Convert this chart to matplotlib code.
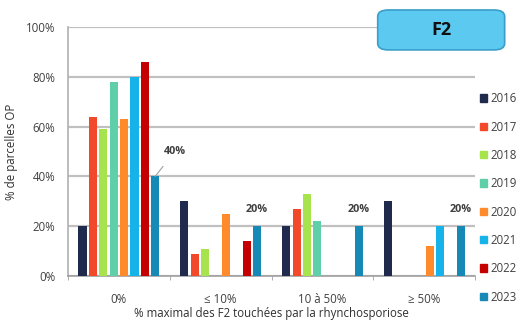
import matplotlib
matplotlib.use("Agg")
import matplotlib.pyplot as plt
import numpy as np
from matplotlib.patches import FancyBboxPatch, Patch

# data
categories = ["0%", "\u2264 10%", "10 \u00e0 50%", "\u2265 50%"]
years = ["2016", "2017", "2018", "2019", "2020", "2021", "2022", "2023"]
v2016 = [20, 30, 20, 30]
v2017 = [64, 9, 27, 0]
v2018 = [59, 11, 33, 0]
v2019 = [78, 0, 22, 0]
v2020 = [63, 25, 0, 12]
v2021 = [80, 0, 0, 20]
v2022 = [86, 14, 0, 0]
v2023 = [40, 20, 20, 20]
series = [v2016, v2017, v2018, v2019, v2020, v2021, v2022, v2023]
labels_2023 = ["40%", "20%", "20%", "20%"]

colors = ["#1f2a4c", "#f2492b", "#a6e34c", "#5fcfa9",
          "#ff8a2b", "#16b2ea", "#c40000", "#1689b6"]

plt.rcParams["font.family"] = ["Open Sans", "DejaVu Sans"]

fig = plt.figure(figsize=(5.29, 3.22), dpi=100)
ax = fig.add_axes([0.1285, 0.143, 0.77, 0.773])

x = np.arange(len(categories))
slot = 0.102
width = 0.08
for i, (vals, c) in enumerate(zip(series, colors)):
    offs = (i - 3.5) * slot
    ax.bar(x + offs, vals, width, color=c, zorder=3, label=years[i])

fs = 8.3
ax.set_xlim(-0.5, 3.5)
ax.set_ylim(0, 100)
ax.set_yticks([0, 20, 40, 60, 80, 100])
ax.set_yticklabels([f"{t}%" for t in [0, 20, 40, 60, 80, 100]],
                   fontsize=fs, color="#404040")
ax.set_xticks(x)
ax.set_xticklabels(categories, fontsize=fs, color="#404040")
ax.set_xticks(np.arange(-0.5, 4.0, 1.0), minor=True)
ax.tick_params(axis="x", which="major", length=0, pad=12)
ax.tick_params(axis="x", which="minor", length=3, color="#a0a0a0")
ax.tick_params(axis="y", length=0, pad=9)
ax.grid(axis="y", color="#c0c0c0", linewidth=1.6, zorder=0)
for s in ["top", "right"]:
    ax.spines[s].set_visible(False)
ax.spines["left"].set_color("#b0b0b0")
ax.spines["bottom"].set_color("#a0a0a0")
ax.spines["left"].set_linewidth(1.2)
ax.spines["bottom"].set_linewidth(1.2)

ax.set_ylabel("% de parcelles OP", fontsize=fs, color="#303030", labelpad=6)
ax.set_xlabel("% maximal des F2 touch\u00e9es par la rhynchosporiose",
              fontsize=fs, color="#303030", labelpad=1)

# 2023 value labels
x23 = x + 3.5 * slot
ax.annotate(labels_2023[0], xy=(x23[0], v2023[0]), xytext=(x23[0] + 0.19, 50),
            ha="center", va="center", fontsize=7.8, color="#404040",
            fontweight="bold",
            arrowprops=dict(arrowstyle="-", color="#a0a0a0", lw=0.8,
                            shrinkA=6, shrinkB=0))
for k in range(1, 4):
    ax.text(x23[k], v2023[k] + 6.5, labels_2023[k], ha="center", va="center",
            fontsize=7.8, color="#404040", fontweight="bold")

# legend
handles = [Patch(color=c, label=y) for c, y in zip(colors, years)]
fig.legend(handles=handles, loc="upper left", bbox_to_anchor=(0.898, 0.728),
           frameon=False, fontsize=fs, handlelength=0.6, handleheight=0.6,
           handletextpad=0.35, labelspacing=1.33, borderaxespad=0,
           labelcolor="#404040")

# title box
box = FancyBboxPatch((0.714, 0.845), 0.240, 0.124,
                     boxstyle="round,pad=0,rounding_size=0.02",
                     transform=fig.transFigure, facecolor="#5bc9f0",
                     edgecolor="#3a9fc8", linewidth=1.2)
fig.patches.append(box)
fig.text(0.834, 0.906, "F2", ha="center", va="center", fontsize=13,
         fontweight="bold", color="#111111")

fig.savefig("out.png", dpi=100)
